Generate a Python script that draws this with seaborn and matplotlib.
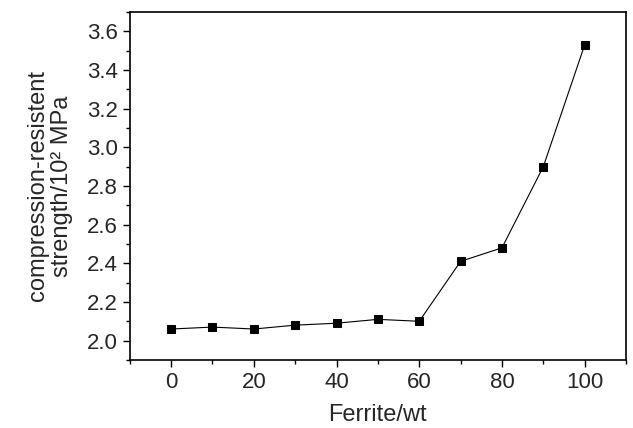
import matplotlib
matplotlib.use("Agg")
import matplotlib.pyplot as plt
from matplotlib.ticker import MultipleLocator
import pandas as pd
import seaborn as sns

ferrite = [0, 10, 20, 30, 40, 50, 60, 70, 80, 90, 100]
strength = [2.06, 2.07, 2.06, 2.08, 2.09, 2.11, 2.10, 2.41, 2.48, 2.90, 3.53]

df = pd.DataFrame({"ferrite": ferrite, "strength": strength})

sns.set_style("ticks")
plt.rcParams["font.family"] = ["Liberation Sans", "DejaVu Sans"]

fig = plt.figure(figsize=(6.33, 4.28), dpi=100)
ax = fig.add_axes([0.205, 0.159, 0.784, 0.813])
sns.lineplot(data=df, x="ferrite", y="strength", ax=ax, color="black",
             linewidth=0.8, marker="s", markersize=6, markeredgecolor="black")

ax.set_xlim(-10, 110)
ax.set_ylim(1.9, 3.7)
ax.xaxis.set_major_locator(MultipleLocator(20))
ax.xaxis.set_minor_locator(MultipleLocator(10))
ax.yaxis.set_major_locator(MultipleLocator(0.2))
ax.yaxis.set_minor_locator(MultipleLocator(0.1))
ax.yaxis.set_major_formatter(plt.FormatStrFormatter("%.1f"))
ax.tick_params(which="both", direction="out", labelsize=16, width=1, color="black")
ax.tick_params(which="major", length=5)
ax.tick_params(which="minor", length=3)
for s in ax.spines.values():
    s.set_linewidth(1.2)
    s.set_color("black")

ax.set_xlabel("Ferrite/wt", fontsize=17, labelpad=8)
ax.set_ylabel("compression-resistent\nstrength/10² MPa", fontsize=17, labelpad=10,
              linespacing=1.1)

fig.savefig("out.png", dpi=100)
